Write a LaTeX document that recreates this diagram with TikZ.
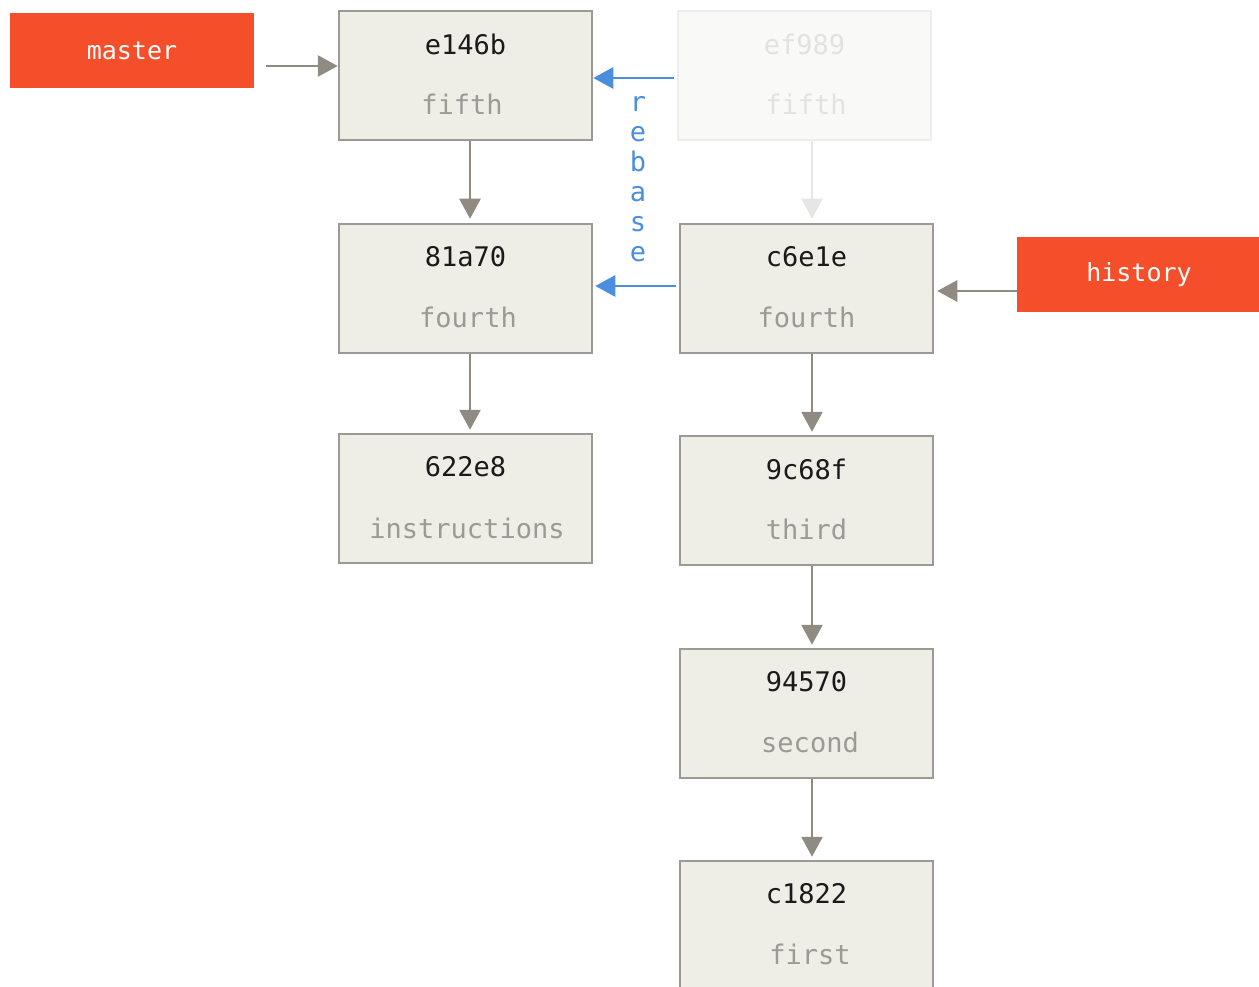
\documentclass[tikz,border=0pt]{standalone}
\usepackage{fontspec}
\setmonofont{DejaVu Sans Mono}
\usetikzlibrary{arrows.meta}
\definecolor{branchred}{HTML}{F44F2A}
\definecolor{boxfill}{HTML}{EEEDE6}
\definecolor{boxline}{HTML}{9B9A95}
\definecolor{arrowgray}{HTML}{8F8A82}
\definecolor{hashblack}{HTML}{1A1A1A}
\definecolor{msggray}{HTML}{9A9A96}
\definecolor{fadefill}{HTML}{F9F9F8}
\definecolor{fadeline}{HTML}{EDEDEB}
\definecolor{fadetext}{HTML}{E2E2E0}
\definecolor{fadearrow}{HTML}{E6E6E4}
\definecolor{rebaseblue}{HTML}{4A8FDD}
\tikzset{
  commit/.style={draw=boxline, fill=boxfill, line width=2.5pt, minimum width=253pt, minimum height=129pt, inner sep=0pt},
  fadecommit/.style={draw=fadeline, fill=fadefill, line width=2.5pt, minimum width=253pt, minimum height=129pt, inner sep=0pt},
  branch/.style={fill=branchred, minimum width=244pt, minimum height=75pt, inner sep=0pt, text=white, font=\ttfamily\fontsize{25}{29}\selectfont},
  hash/.style={text=hashblack, font=\ttfamily\fontsize{27}{31}\selectfont, inner sep=0pt},
  msg/.style={text=msggray, font=\ttfamily\fontsize{27}{31}\selectfont, inner sep=0pt},
  fadetxt/.style={text=fadetext, font=\ttfamily\fontsize{27}{31}\selectfont, inner sep=0pt},
  conn/.style={draw=arrowgray, line width=2.7pt, -{Triangle[length=20pt,width=21pt]}, color=arrowgray},
  fadeconn/.style={draw=fadearrow, line width=2.7pt, -{Triangle[length=20pt,width=21pt]}, color=fadearrow},
  blueconn/.style={draw=rebaseblue, line width=2.7pt, -{Triangle[length=20pt,width=21pt]}, color=rebaseblue},
}
\begin{document}
\begin{tikzpicture}[x=1pt,y=-1pt]
\useasboundingbox (0,0) rectangle (1259,987);
\clip (0,0) rectangle (1259,987);
\fill[white] (0,0) rectangle (1259,987);
% commits
\node[commit] (e146b) at (465.5,75.5) {};
\node[hash] (e146bh) at (465.5,44) {e146b};
\node[msg] (e146bm) at (462,104) {fifth};
\node[fadecommit] (ef989) at (804.5,75.5) {};
\node[fadetxt] (ef989h) at (804.5,44) {ef989};
\node[fadetxt] (ef989m) at (806,104) {fifth};
\node[commit] (81a70) at (465.5,288.5) {};
\node[hash] (81a70h) at (465.5,257) {81a70};
\node[msg] (81a70m) at (468,317) {fourth};
\node[commit] (c6e1e) at (806.5,288.5) {};
\node[hash] (c6e1eh) at (806.5,257) {c6e1e};
\node[msg] (c6e1em) at (806.5,317) {fourth};
\node[commit] (622e8) at (465.5,498.5) {};
\node[hash] (622e8h) at (465.5,467) {622e8};
\node[msg] (622e8m) at (467,528) {instructions};
\node[commit] (9c68f) at (806.5,500.5) {};
\node[hash] (9c68fh) at (806.5,469) {9c68f};
\node[msg] (9c68fm) at (806.5,529) {third};
\node[commit] (94570) at (806.5,713.5) {};
\node[hash] (94570h) at (806.5,682) {94570};
\node[msg] (94570m) at (810,742) {second};
\node[commit] (c1822) at (806.5,925.5) {};
\node[hash] (c1822h) at (806.5,894) {c1822};
\node[msg] (c1822m) at (810,954) {first};
% branches
\node[branch] (master) at (132,50.5) {master};
\node[branch] (history) at (1139,274.5) {history};
% connectors
\draw[conn] ([xshift=12pt,yshift=-15.5pt]master.east) -- ([yshift=9.5pt]e146b.west);
\draw[conn] ([xshift=4.5pt]e146b.south) -- ([xshift=4.5pt,yshift=4pt]81a70.north);
\draw[conn] ([xshift=4.5pt]81a70.south) -- ([xshift=4.5pt,yshift=3pt]622e8.north);
\draw[fadeconn] ([xshift=7.5pt]ef989.south) -- ([xshift=5.5pt,yshift=4pt]c6e1e.north);
\draw[conn] ([xshift=5.5pt]c6e1e.south) -- ([xshift=5.5pt,yshift=3pt]9c68f.north);
\draw[conn] ([xshift=5.5pt]9c68f.south) -- ([xshift=5.5pt,yshift=3pt]94570.north);
\draw[conn] ([xshift=5.5pt]94570.south) -- ([xshift=5.5pt,yshift=3pt]c1822.north);
\draw[conn] ([yshift=-16.5pt]history.west) -- ([xshift=3pt,yshift=-2.5pt]c6e1e.east);
\draw[blueconn] ([xshift=-3pt,yshift=-2.5pt]ef989.west) -- ([yshift=-2.5pt]e146b.east);
\draw[blueconn] ([xshift=-3pt,yshift=2.5pt]c6e1e.west) -- ([xshift=2pt,yshift=2.5pt]81a70.east);
\node[text=rebaseblue, font=\ttfamily\fontsize{27}{30}\selectfont, align=center, inner sep=0pt] (rebase) at (638,179) {r\\e\\b\\a\\s\\e};
\end{tikzpicture}
\end{document}
